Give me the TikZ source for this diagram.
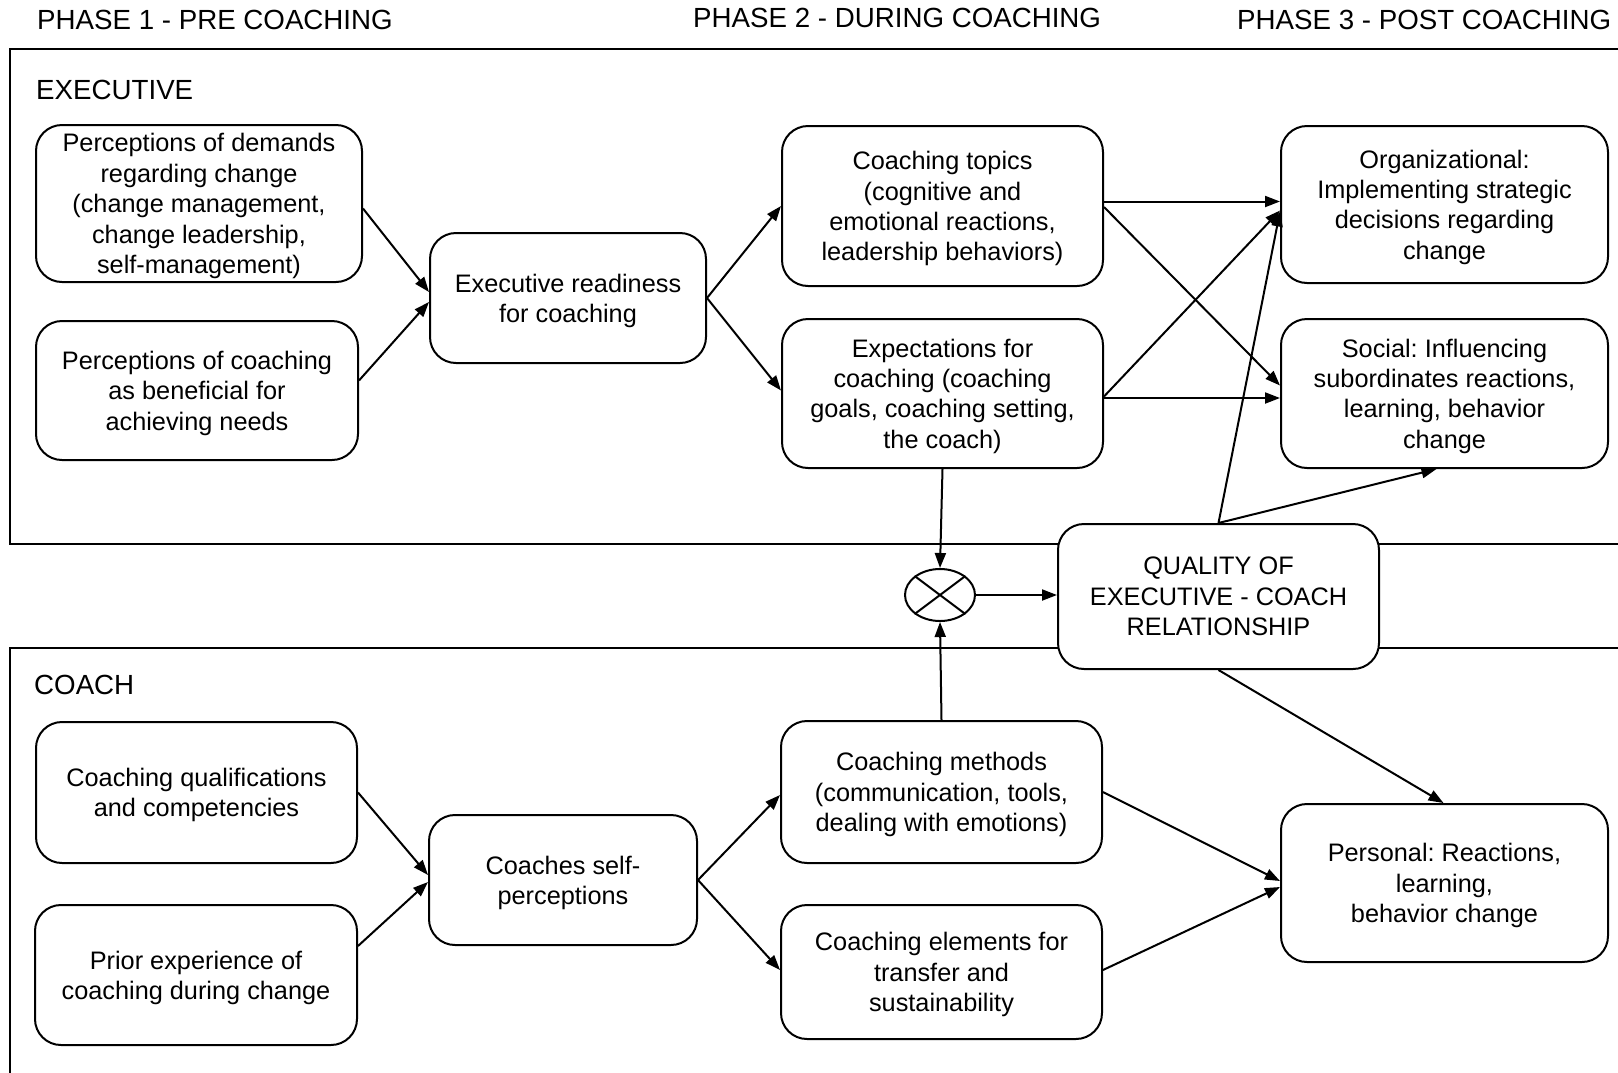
\documentclass[tikz,border=0pt]{standalone}
\usepackage{fontspec}
\setmainfont{Liberation Sans}
\usetikzlibrary{arrows.meta,shapes.geometric,calc}
\frenchspacing
\newcommand\boxnode[6][-2.7pt]{%
  \node[box,minimum width=#4,minimum height=#5] (#2) at (#3) {};
  \node[boxtext] (#2t) at ([yshift=#1]#2.center) {#6};}
\begin{document}
\begin{tikzpicture}[x=1pt,y=-1pt,
  box/.style={draw,fill=white,line width=2pt,rounded corners=26pt,inner sep=0pt},
  boxtext/.style={align=center,inner sep=0pt,font=\fontsize{25.3}{30.4}\selectfont},
  lbl/.style={anchor=west,inner sep=0pt,font=\fontsize{27.7}{33}\selectfont},
  conn/.style={line width=2pt,-{Triangle[length=15pt,width=11pt]}},
  frame/.style={line width=2pt}]
\useasboundingbox (0,0) rectangle (1618,1072);
% frames
\draw[frame] (1625,48.5) -- (10,48.5) -- (10,544) -- (1625,544);
\draw[frame] (1625,648) -- (10,648) -- (10,1080);
% titles
\node[lbl] (ph1) at (37,20) {PHASE 1 - PRE COACHING};
\node[lbl] (ph2) at (693,18) {PHASE 2 - DURING COACHING};
\node[lbl] (ph3) at (1237,20) {PHASE 3 - POST COACHING};
\node[lbl] (exec) at (36,90) {EXECUTIVE};
\node[lbl] (coach) at (34,685) {COACH};
% boxes
\boxnode{A1}{199,203.5}{326}{157}{Perceptions of demands\\regarding change\\(change management,\\change leadership,\\self-management)}
\boxnode{A2}{197,390.5}{322}{139}{Perceptions of coaching\\as beneficial for\\achieving needs}
\boxnode{R}{568,298}{276}{130}{Executive readiness\\for coaching}
\boxnode{T}{942.5,206}{321}{160}{Coaching topics\\(cognitive and\\emotional reactions,\\leadership behaviors)}
\boxnode{E}{942.5,393.5}{321}{149}{Expectations for\\coaching (coaching\\goals, coaching setting,\\the coach)}
\boxnode{O1}{1444.5,204.5}{327}{157}{Organizational:\\Implementing strategic\\decisions regarding\\change}
\boxnode{O2}{1444.5,393.5}{327}{149}{Social: Influencing\\subordinates reactions,\\learning, behavior\\change}
\boxnode[0pt]{Q}{1218.5,596.5}{321}{145}{QUALITY OF\\EXECUTIVE - COACH\\RELATIONSHIP}
\node[draw,ellipse,line width=2pt,minimum width=70,minimum height=52,inner sep=0pt] (X) at (940,595) {};
\draw[line width=2pt] (X.north west) -- (X.south east);
\draw[line width=2pt] (X.north east) -- (X.south west);
\boxnode{C1}{196.5,792.5}{321}{141}{Coaching qualifications\\and competencies}
\boxnode{C2}{196,975}{322}{140}{Prior experience of\\coaching during change}
\boxnode{S}{563,880}{268}{130}{Coaches self-\\perceptions}
\boxnode{M}{941.5,792}{321}{142}{Coaching methods\\(communication, tools,\\dealing with emotions)}
\boxnode{EL}{941.5,972}{321}{134}{Coaching elements for\\transfer and\\sustainability}
\boxnode{P}{1444.5,883}{327}{158}{Personal: Reactions,\\learning,\\behavior change}
% connectors executive
\draw[conn] ([yshift=-5pt]A1.east) -- ([yshift=6pt]R.west);
\draw[conn] ([yshift=10pt]A2.east) -- ([yshift=-4pt]R.west);
\draw[conn] (R.east) -- (T.west);
\draw[conn] (R.east) -- ([yshift=3pt]E.west);
\draw[conn] ([yshift=4.5pt]T.east) -- ([yshift=4.5pt]T.east -| O1.west);
\draw[conn] ([yshift=-1pt]T.east) -- ([yshift=8pt]O2.west);
\draw[conn] ([yshift=-3pt]E.east) -- ([yshift=-6pt]O1.west);
\draw[conn] ([yshift=-4.5pt]E.east) -- ([yshift=-4.5pt]E.east -| O2.west);
\draw[conn] (Q.north) -- ([yshift=-7pt]O1.west);
\draw[conn] (Q.north) -- ([xshift=-8pt]O2.south);
\draw[conn] (E.south) -- (X.north);
\draw[conn] (M.north) -- (X.south);
\draw[conn] (X.east) -- (Q.west |- X.east);
\draw[conn] (Q.south) -- ([xshift=-1pt]P.north);
% connectors coach
\draw[conn] (C1.east) -- ([yshift=5pt]S.west);
\draw[conn] ([yshift=29pt]C2.east) -- ([yshift=-2pt]S.west);
\draw[conn] (S.east) -- ([yshift=-3pt]M.west);
\draw[conn] (S.east) -- ([yshift=2pt]EL.west);
\draw[conn] (M.east) -- ([yshift=2pt]P.west);
\draw[conn] ([yshift=2pt]EL.east) -- ([yshift=-4pt]P.west);
\end{tikzpicture}
\end{document}
